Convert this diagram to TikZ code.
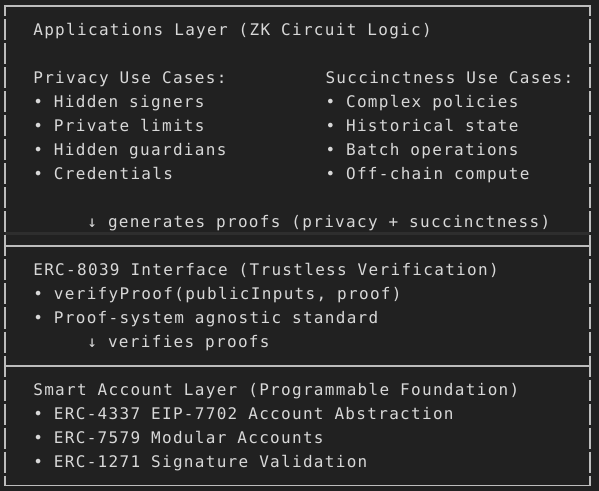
\documentclass[tikz,border=0pt]{standalone}
\usepackage{fontspec}
\newfontfamily\codefont[LetterSpace=8.2]{DejaVu Sans Mono}
\definecolor{bg}{HTML}{212121}
\definecolor{fg}{HTML}{D8D8D8}
\definecolor{rule}{HTML}{BDBDBD}
\definecolor{faint}{HTML}{2E2E2E}
\tikzset{
  code/.style={anchor=base west, inner sep=0pt, outer sep=0pt, text=fg,
    font=\codefont\fontsize{12pt}{14pt}\selectfont},
  frame/.style={draw=rule, line width=1.4pt},
  bar/.style={draw=rule, line width=1.1pt}
}
\newcommand{\colx}[1]{0.9+#1*10.82}
\newcommand{\rowy}[1]{11.5+24*#1}
\begin{document}
\begin{tikzpicture}[x=0.75pt,y=-0.75pt]
\fill[bg] (0,0) rectangle (599,491);
\useasboundingbox (0,0) rectangle (599,491);
% faint band between rows 9 and 10
\fill[faint] (5,232) rectangle (590,235);
% frame horizontals
\coordinate (tl) at (5,6);
\coordinate (tr) at (590,6);
\coordinate (m1l) at (5,246);
\coordinate (m1r) at (590,246);
\coordinate (m2l) at (5,366);
\coordinate (m2r) at (590,366);
\coordinate (bl) at (5,485.5);
\coordinate (br) at (590,485.5);
\draw[frame] (tl) -- (tr);
\draw[frame] (m1l) -- (m1r);
\draw[frame] (m2l) -- (m2r);
\draw[frame] (bl) -- (br);
% vertical bars, one segment per text row
\draw[bar] (5,5.3) -- (5,16.5);
\draw[bar] (590,5.3) -- (590,16.5);
\foreach \r in {1,...,19}{
  \draw[bar] (5,{-6+24*\r+1.5}) -- (5,{18+24*\r-1.5});
  \draw[bar] (590,{-6+24*\r+1.5}) -- (590,{18+24*\r-1.5});
}
\draw[bar] (5,475.5) -- (5,486.2);
\draw[bar] (590,475.5) -- (590,486.2);
% Applications layer
\node[code] (app) at ({\colx{3}},{\rowy{1}}) {Applications Layer (ZK Circuit Logic)};
\node[code] (privh) at ({\colx{3}},{\rowy{3}}) {Privacy Use Cases:};
\node[code] (succh) at ({\colx{30}},{\rowy{3}}) {Succinctness Use Cases:};
\node[code] (p1) at ({\colx{3}},{\rowy{4}}) {• Hidden signers};
\node[code] (p2) at ({\colx{3}},{\rowy{5}}) {• Private limits};
\node[code] (p3) at ({\colx{3}},{\rowy{6}}) {• Hidden guardians};
\node[code] (p4) at ({\colx{3}},{\rowy{7}}) {• Credentials};
\node[code] (s1) at ({\colx{30}},{\rowy{4}}) {• Complex policies};
\node[code] (s2) at ({\colx{30}},{\rowy{5}}) {• Historical state};
\node[code] (s3) at ({\colx{30}},{\rowy{6}}) {• Batch operations};
\node[code] (s4) at ({\colx{30}},{\rowy{7}}) {• Off-chain compute};
\node[code] (gen) at ({\colx{8}},{\rowy{9}}) {↓ generates proofs (privacy + succinctness)};
% ERC-8039 layer
\node[code] (erc) at ({\colx{3}},{\rowy{11}}) {ERC-8039 Interface (Trustless Verification)};
\node[code] (e1) at ({\colx{3}},{\rowy{12}}) {• verifyProof(publicInputs, proof)};
\node[code] (e2) at ({\colx{3}},{\rowy{13}}) {• Proof-system agnostic standard};
\node[code] (ver) at ({\colx{8}},{\rowy{14}}) {↓ verifies proofs};
% Smart account layer
\node[code] (sa) at ({\colx{3}},{\rowy{16}}) {Smart Account Layer (Programmable Foundation)};
\node[code] (sa1) at ({\colx{3}},{\rowy{17}}) {• ERC-4337 EIP-7702 Account Abstraction};
\node[code] (sa2) at ({\colx{3}},{\rowy{18}}) {• ERC-7579 Modular Accounts};
\node[code] (sa3) at ({\colx{3}},{\rowy{19}}) {• ERC-1271 Signature Validation};
\end{tikzpicture}
\end{document}
